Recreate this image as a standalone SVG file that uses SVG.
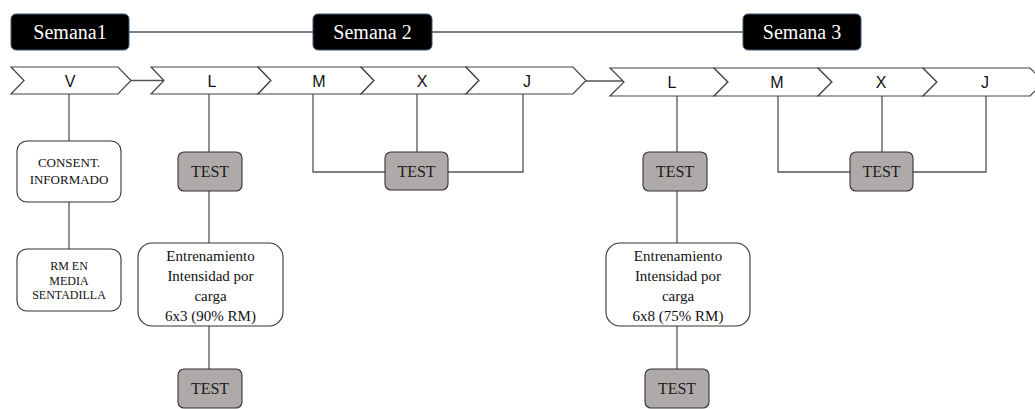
<svg xmlns="http://www.w3.org/2000/svg" width="1035" height="409" viewBox="0 0 1035 409">
<style>
.bg{fill:#ffffff}
.week rect{fill:#000000;stroke:#3d5a78;stroke-width:1}
.week text{font-family:"Liberation Serif","Times New Roman",serif;font-size:20px;fill:#ffffff;text-anchor:middle}
.day path{fill:#ffffff;stroke:#444444;stroke-width:1.2}
.day text{font-family:"Liberation Sans",Arial,sans-serif;font-size:16px;fill:#111111;text-anchor:middle}
.box rect{fill:#ffffff;stroke:#333333;stroke-width:1.1}
.box text{font-family:"Liberation Serif","Times New Roman",serif;fill:#111111;text-anchor:middle}
.test rect{fill:#aeaaa9;stroke:#333333;stroke-width:1.1}
.test text{font-family:"Liberation Serif","Times New Roman",serif;font-size:16px;fill:#1a1a1a;text-anchor:middle}
.conn line,.conn polyline{stroke:#555555;stroke-width:1.3;fill:none}
</style>
<rect class="bg" x="0" y="0" width="1035" height="409"/>
<g class="conn" id="connectors">
<line x1="129" y1="32" x2="313" y2="32"/>
<line x1="432" y1="32" x2="743" y2="32"/>
<line x1="131" y1="80.5" x2="164" y2="80.5"/>
<line x1="586" y1="81" x2="623" y2="81"/>
<line x1="69" y1="94" x2="69" y2="141"/>
<line x1="69" y1="202" x2="69" y2="249"/>
<line x1="209" y1="94" x2="209" y2="152"/>
<line x1="209" y1="191" x2="209" y2="243"/>
<line x1="209" y1="326" x2="209" y2="369"/>
<polyline points="313,94 313,172 385,172"/>
<line x1="417" y1="94" x2="417" y2="152"/>
<polyline points="523,94 523,172 448,172"/>
<line x1="677" y1="96" x2="677" y2="152"/>
<line x1="677" y1="191" x2="677" y2="243"/>
<line x1="677" y1="326" x2="677" y2="369"/>
<polyline points="778,96 778,172 850,172"/>
<line x1="882" y1="96" x2="882" y2="152"/>
<polyline points="986,96 986,172 913,172"/>
</g>
<g class="week" id="semana1"><rect x="11" y="14" width="118" height="36" rx="5"/><text x="70" y="39">Semana1</text></g>
<g class="week" id="semana2"><rect x="313" y="14" width="119" height="36" rx="5"/><text x="372.5" y="39">Semana 2</text></g>
<g class="week" id="semana3"><rect x="743" y="14" width="118" height="36" rx="5"/><text x="802" y="39">Semana 3</text></g>
<g class="day" id="day-v"><path d="M11,67 L118,67 L131,80.5 L118,94 L11,94 L24,80.5 Z"/><text x="70" y="87">V</text></g>
<g class="day" id="day-l1"><path d="M151,67 L258,67 L271,80.5 L258,94 L151,94 L164,80.5 Z"/><text x="212" y="87">L</text></g>
<g class="day" id="day-m1"><path d="M258,67 L361,67 L374,80.5 L361,94 L258,94 L271,80.5 Z"/><text x="319" y="87">M</text></g>
<g class="day" id="day-x1"><path d="M361,67 L466,67 L479,80.5 L466,94 L361,94 L374,80.5 Z"/><text x="422" y="87">X</text></g>
<g class="day" id="day-j1"><path d="M466,67 L573,67 L586,80.5 L573,94 L466,94 L479,80.5 Z"/><text x="527" y="87">J</text></g>
<g class="day" id="day-l2"><path d="M610,68 L714,68 L728,82 L714,96 L610,96 L624,82 Z"/><text x="672" y="88">L</text></g>
<g class="day" id="day-m2"><path d="M714,68 L818,68 L832,82 L818,96 L714,96 L728,82 Z"/><text x="777" y="88">M</text></g>
<g class="day" id="day-x2"><path d="M818,68 L923,68 L937,82 L923,96 L818,96 L832,82 Z"/><text x="881" y="88">X</text></g>
<g class="day" id="day-j2"><path d="M923,68 L1030,68 L1044,82 L1030,96 L923,96 L937,82 Z"/><text x="985" y="88">J</text></g>
<g class="box" id="consent"><rect x="17" y="141" width="104" height="61" rx="10"/><text font-size="13" x="69" y="167">CONSENT.</text><text font-size="13" x="69" y="184">INFORMADO</text></g>
<g class="box" id="rm"><rect x="17" y="249" width="104" height="62" rx="10"/><text font-size="12" x="69" y="270">RM EN</text><text font-size="12" x="69" y="285">MEDIA</text><text font-size="12" x="69" y="299">SENTADILLA</text></g>
<g class="test" id="test-l1"><rect x="178" y="152" width="64" height="39" rx="6"/><text x="210" y="177">TEST</text></g>
<g class="box" id="train1"><rect x="138" y="243" width="145" height="83" rx="14"/><text font-size="15" x="210.5" y="261">Entrenamiento</text><text font-size="15" x="210.5" y="281">Intensidad por</text><text font-size="15" x="210.5" y="301">carga</text><text font-size="15" x="210.5" y="321">6x3 (90% RM)</text></g>
<g class="test" id="test-l1b"><rect x="178" y="369" width="64" height="39" rx="6"/><text x="210" y="394">TEST</text></g>
<g class="test" id="test-w2"><rect x="385" y="152" width="63" height="38" rx="6"/><text x="416.5" y="177">TEST</text></g>
<g class="test" id="test-l2"><rect x="643" y="152" width="64" height="39" rx="6"/><text x="675" y="177">TEST</text></g>
<g class="box" id="train2"><rect x="606" y="243" width="144" height="83" rx="14"/><text font-size="15" x="678" y="261">Entrenamiento</text><text font-size="15" x="678" y="281">Intensidad por</text><text font-size="15" x="678" y="301">carga</text><text font-size="15" x="678" y="321">6x8 (75% RM)</text></g>
<g class="test" id="test-l2b"><rect x="645" y="369" width="64" height="39" rx="6"/><text x="677" y="394">TEST</text></g>
<g class="test" id="test-w3"><rect x="850" y="152" width="63" height="39" rx="6"/><text x="881.5" y="177">TEST</text></g>
</svg>
